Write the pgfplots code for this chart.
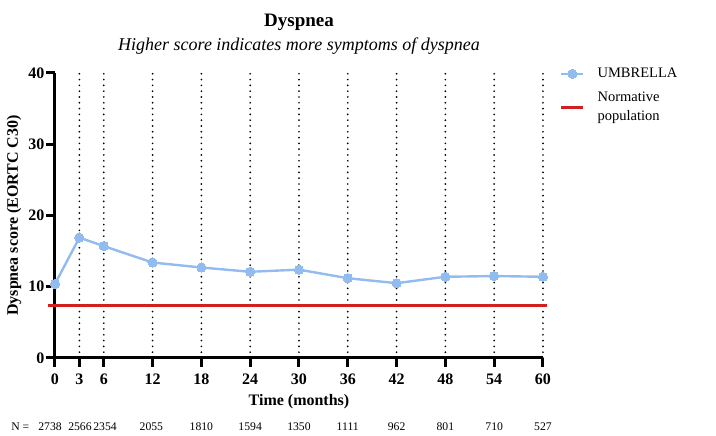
\documentclass[border=0pt]{standalone}
\usepackage{pgfplots}
\pgfplotsset{compat=1.18}
\usepackage{fontspec}
\setmainfont{Liberation Serif}
\definecolor{umb}{RGB}{146,187,240}
\definecolor{norm}{RGB}{210,32,32}
\begin{document}
\begin{tikzpicture}
\useasboundingbox (-55pt,-78pt) rectangle (661pt,358pt);
\begin{axis}[
  at={(0,0)}, anchor=south west,
  width=488pt, height=285pt, scale only axis,
  xmin=0, xmax=60, ymin=0, ymax=40,
  clip=false,
  axis x line=bottom, axis y line=left,
  axis line style={line width=3pt, -},
  xtick={0,3,6,12,18,24,30,36,42,48,54,60},
  ytick={0,10,20,30,40},
  major tick length=9pt,
  xtick style={line width=3pt, black},
  ytick style={line width=3pt, black},
  minor tick num=0,
  xmajorgrids,
  major x grid style={black, line width=1.9pt, dash pattern=on 0pt off 5.8pt, line cap=round},
  /pgf/number format/assume math mode=true,
  tick label style={font=\bfseries\fontsize{16}{16}\selectfont},
  xticklabel style={yshift=-3pt},
  yticklabel style={xshift=2pt},
  xlabel={Time (months)}, ylabel={Dyspnea score (EORTC C30)},
  label style={font=\bfseries\fontsize{16}{18}\selectfont},
  xlabel style={at={(rel axis cs:0.5,0)}, anchor=center, yshift=-44pt},
  ylabel style={at={(rel axis cs:0,0.5)}, anchor=center, yshift=41pt},
  legend style={at={(rel axis cs:1,1)}, anchor=north west, xshift=14pt, yshift=9pt,
    draw=none, fill=none, font=\fontsize{14.5}{19}\selectfont,
    cells={anchor=west, align=left}, row sep=9pt},
  legend image code/.code={\draw[mark repeat=2,mark phase=2,#1] plot coordinates {(0pt,0pt) (11pt,0pt) (22pt,0pt)}; \path (33pt,0pt);},
  xtick align=outside, ytick align=outside,
]
\addplot[umb, line width=2.4pt, mark=*, mark size=4.6pt, mark options={fill=umb, draw=umb, line width=0pt}]
  coordinates {(0,10.4) (3,16.9) (6,15.7) (12,13.4) (18,12.7) (24,12.1) (30,12.4) (36,11.2) (42,10.5) (48,11.4) (54,11.5) (60,11.4)};
\addlegendentry{UMBRELLA}
\addplot[norm, line width=2.4pt] coordinates {(-0.9,7.35) (60.5,7.35)};
\addlegendentry{Normative\\population}

\node[font=\bfseries\fontsize{19}{19}\selectfont] at (rel axis cs:0.5,1) [yshift=51pt] {Dyspnea};
\node[font=\itshape\fontsize{18}{18}\selectfont] at (rel axis cs:0.5,1) [yshift=27pt] {Higher score indicates more symptoms of dyspnea};

\begin{scope}[every node/.style={font=\fontsize{11.7}{13}\selectfont, anchor=center, yshift=-69pt}]
\node[anchor=west] at (axis cs:-5.8,0) {N =};
\node at (axis cs:-0.61,0) {2738};
\node at (axis cs:3.07,0) {2566};
\node at (axis cs:6.15,0) {2354};
\node at (axis cs:11.85,0) {2055};
\node at (axis cs:18,0) {1810};
\node at (axis cs:24,0) {1594};
\node at (axis cs:30,0) {1350};
\node at (axis cs:36,0) {1111};
\node at (axis cs:42,0) {962};
\node at (axis cs:48,0) {801};
\node at (axis cs:54,0) {710};
\node at (axis cs:60,0) {527};
\end{scope}
\end{axis}
\end{tikzpicture}
\end{document}
